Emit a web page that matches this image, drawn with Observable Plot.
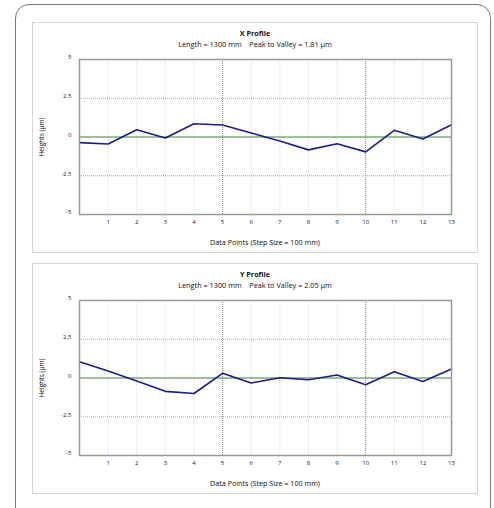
<!DOCTYPE html>
<html>
<head>
<meta charset="utf-8">
<script src="https://cdn.jsdelivr.net/npm/d3@7"></script>
<script src="https://cdn.jsdelivr.net/npm/@observablehq/plot@0.6"></script>
<style>
  body { margin: 0; background: #fff; font-family: "Open Sans", "Liberation Sans", sans-serif; }
  #page { position: relative; width: 494px; height: 508px; overflow: hidden; }
  .outer { position: absolute; left: 15px; top: 4px; width: 474px; height: 516px; border: 1.5px solid #7a7a7a; border-radius: 14px; }
  .panel { position: absolute; left: 32px; width: 444px; height: 229px; border: 1px solid #d6d6d6; background: #fff; }
  .panel svg { position: absolute; left: 0; top: 0; }
  .t { position: absolute; left: 0; width: 100%; text-align: center; white-space: pre; color: #111; }
  .title { font-weight: bold; font-size: 7.2px; }
  .sub { font-size: 7.3px; }
  .xl { font-size: 7.2px; left: 46px; width: 372px; }
  .yl { position: absolute; font-size: 6.6px; white-space: pre; transform: translate(-50%, -50%) rotate(-90deg); color: #111; }
</style>
</head>
<body>
<div id="page">
  <div class="outer"></div>
</div>
<script>
// ---- data ----
const points = [0, 1, 2, 3, 4, 5, 6, 7, 8, 9, 10, 11, 12, 13];
const xHeights = [-0.36, -0.45, 0.47, -0.06, 0.85, 0.77, 0.26, -0.26, -0.83, -0.43, -0.96, 0.43, -0.13, 0.79];
const yHeights = [1.05, 0.45, -0.19, -0.86, -1.0, 0.30, -0.32, 0.02, -0.11, 0.19, -0.43, 0.40, -0.22, 0.58];
const xTicks = [1, 2, 3, 4, 5, 6, 7, 8, 9, 10, 11, 12, 13];
const yTicks = [-5, -2.5, 0, 2.5, 5];
const majorX = [5, 10];
const gridY = [-2.5, 2.5];
const panels = [
  { title: "X Profile", length: 1300, pv: "1.81", values: xHeights, top: 22 },
  { title: "Y Profile", length: 1300, pv: "2.05", values: yHeights, top: 263 }
];
const xLabel = "Data Points (Step Size = 100 mm)";
const yLabel = "Heights (µm)";

const page = document.getElementById("page");
const W = 444, H = 229, mL = 46, mR = 26, mT = 36, mB = 38;

for (const p of panels) {
  const data = points.map((x, i) => ({ x, h: p.values[i] }));
  const div = document.createElement("div");
  div.className = "panel";
  div.style.top = p.top + "px";
  const chart = Plot.plot({
    width: W, height: H,
    marginLeft: mL, marginRight: mR, marginTop: mT, marginBottom: mB,
    style: { fontFamily: "'Open Sans', sans-serif", fontSize: "6px", color: "#222", background: "transparent" },
    x: { domain: [0, 13] },
    y: { domain: [-5, 5] },
    marks: [
      Plot.gridX(xTicks, { stroke: "#dedede", strokeOpacity: 1, strokeDasharray: "1,1" }),
      Plot.ruleX(majorX, { stroke: "#8a8a8a", strokeDasharray: "1,1" }),
      Plot.gridY(gridY, { stroke: "#aaaaaa", strokeOpacity: 1, strokeDasharray: "1,1" }),
      Plot.ruleY([0], { stroke: "#3f7f35", strokeWidth: 1 }),
      Plot.line(data, { x: "x", y: "h", stroke: "#1d1d8a", strokeWidth: 1.6 }),
      Plot.frame({ stroke: "#9a9a9a", strokeWidth: 1.5 }),
      Plot.axisX(xTicks, { tickSize: 0, tickPadding: 5, label: null, fontSize: 6 }),
      Plot.axisY(yTicks, { tickSize: 0, tickPadding: 8, label: null, fontSize: 6, dy: -2, tickFormat: d => String(d) })
    ]
  });
  div.appendChild(chart);
  const t = document.createElement("div");
  t.className = "t title"; t.textContent = p.title; t.style.top = "5px";
  const s = document.createElement("div");
  s.className = "t sub"; s.textContent = `Length = ${p.length} mm    Peak to Valley = ${p.pv} µm`; s.style.top = "16px";
  const xl = document.createElement("div");
  xl.className = "t xl"; xl.textContent = xLabel; xl.style.top = "214px";
  const yl = document.createElement("div");
  yl.className = "yl"; yl.textContent = yLabel; yl.style.left = "8px"; yl.style.top = (mT + (H - mT - mB) / 2) + "px";
  div.append(t, s, xl, yl);
  page.appendChild(div);
}
</script>
</body>
</html>
